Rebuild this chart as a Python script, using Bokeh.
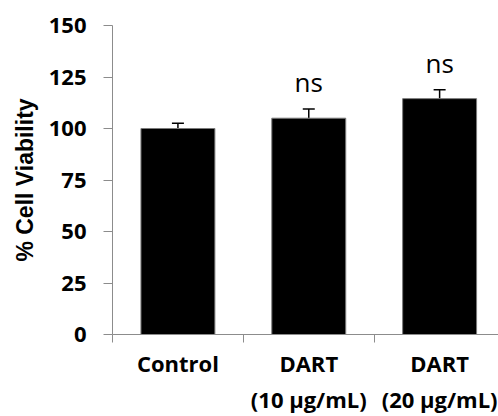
from bokeh.plotting import figure
from bokeh.models import (ColumnDataSource, Range1d, LinearAxis, FixedTicker,
                          Whisker, TeeHead)
from bokeh.core.properties import value
from bokeh.embed import file_html
from bokeh.resources import INLINE

# Cell viability data
categories = ["Control", "DART\n(10 µg/mL)", "DART\n(20 µg/mL)"]
viability = [100, 105, 114.5]
errors = [2.6, 4.5, 4.3]
significance = ["", "ns", "ns"]
y_ticks = [0, 25, 50, 75, 100, 125, 150]

# category i occupies [i, i+1] on the x scale
centers = [i + 0.5 for i in range(len(categories))]
bounds = [float(i) for i in range(len(categories) + 1)]

src = ColumnDataSource(dict(
    x=centers,
    top=viability,
    upper=[v + e for v, e in zip(viability, errors)],
    sig=significance,
))

AXIS_GREY = "#8c8c8c"

p = figure(width=498, height=416, output_backend="svg", toolbar_location=None,
           x_range=Range1d(0, 2.95), y_range=Range1d(0, 150),
           x_axis_location=None, y_axis_location=None,
           min_border_left=112, min_border_right=0,
           min_border_top=25, min_border_bottom=82)
p.grid.visible = False
p.outline_line_color = None
p.background_fill_color = "white"
p.border_fill_color = "white"

p.vbar(x="x", top="top", width=0.565, bottom=0, source=src,
       fill_color="black", line_color="#7a7a7a", line_width=1)

p.add_layout(Whisker(source=src, base="x", upper="upper", lower="top",
                     line_color="black", line_width=1.5,
                     upper_head=TeeHead(size=12, line_color="black", line_width=1.5),
                     lower_head=None))

p.text(x="x", y="upper", text="sig", source=src,
       text_font=value("Open Sans"), text_font_size="26px",
       text_align="center", text_baseline="alphabetic",
       text_color="black", y_offset=-27)

# y axis
yax = LinearAxis(ticker=FixedTicker(ticks=y_ticks, minor_ticks=[]),
                 axis_label="% Cell Viability")
yax.axis_line_color = AXIS_GREY
yax.major_tick_line_color = AXIS_GREY
yax.major_tick_in = 0
yax.major_tick_out = 9
yax.major_label_standoff = 17
yax.major_label_text_font = "Open Sans"
yax.major_label_text_font_style = "bold"
yax.major_label_text_font_size = "22px"
yax.major_label_text_color = "black"
yax.axis_label_text_font = "Liberation Sans"
yax.axis_label_text_font_style = "bold"
yax.axis_label_text_font_size = "23px"
yax.axis_label_text_color = "black"
yax.axis_label_standoff = 8
p.add_layout(yax, "left")

# x axis: boundary ticks as minor ticks, labels at category centres
xax = LinearAxis(ticker=FixedTicker(ticks=centers, minor_ticks=bounds))
xax.major_label_overrides = {c: lab for c, lab in zip(centers, categories)}
xax.axis_line_color = AXIS_GREY
xax.major_tick_line_color = None
xax.minor_tick_line_color = AXIS_GREY
xax.minor_tick_in = 0
xax.minor_tick_out = 8
xax.major_tick_in = 0
xax.major_tick_out = 8
xax.major_label_standoff = 5
xax.major_label_text_font = "Open Sans"
xax.major_label_text_font_style = "bold"
xax.major_label_text_font_size = "22px"
xax.major_label_text_color = "black"
xax.major_label_text_line_height = 1.2
p.add_layout(xax, "below")

open("out.html", "w").write(file_html(p, INLINE))
